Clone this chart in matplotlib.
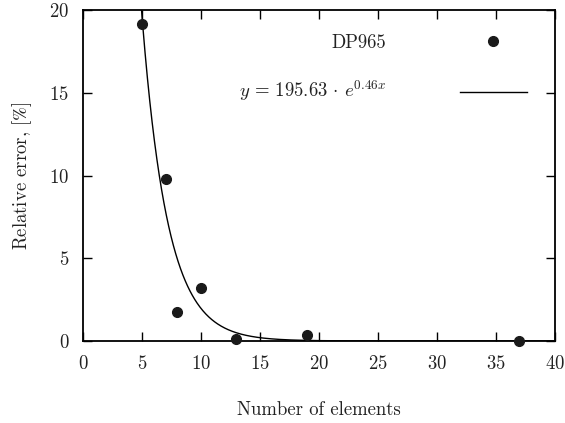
import numpy as np
import matplotlib
matplotlib.use('Agg')
import matplotlib.pyplot as plt
from matplotlib.lines import Line2D

# Estil semblant a gnuplot + LaTeX
matplotlib.rcParams['font.family'] = 'cmr10'
matplotlib.rcParams['mathtext.fontset'] = 'cm'
matplotlib.rcParams['axes.formatter.use_mathtext'] = True
matplotlib.rcParams.update({'font.size': 13.5})

# Dades llegides de la figura
elements = [5, 7, 8, 10, 13, 19, 37]
rel_error = [19.15, 9.8, 1.77, 3.22, 0.1, 0.34, 0.02]
fit_a = 195.63
fit_b = 0.46
xticks = [0, 5, 10, 15, 20, 25, 30, 35, 40]
yticks = [0, 5, 10, 15, 20]

fig = plt.figure(figsize=(5.65, 4.23), dpi=100)
ax = fig.add_axes([0.147, 0.194, 0.835, 0.782])

x_fit = np.linspace(0, 40, 800)
ax.plot(x_fit, fit_a * np.exp(-fit_b * x_fit), color='black', lw=1.0)
ax.plot(elements, rel_error, 'o', color='#1a1a1a', ms=7, clip_on=False, zorder=3)

ax.set_xlim(0, 40)
ax.set_ylim(0, 20)
ax.set_xticks(xticks)
ax.set_yticks(yticks)
ax.tick_params(direction='in', length=6.5, width=1.0, top=True, right=True, pad=10,
               labelcolor='#222222')
for s in ax.spines.values():
    s.set_linewidth(1.3)

ax.set_xlabel('Number of elements', labelpad=20, color='#222222')
ax.set_ylabel(r'Relative error, [$\%$]', labelpad=11, color='#222222',
              math_fontfamily='stix')

# Llegenda a l'estil gnuplot
ax.text(0.642, 0.900, 'DP965', transform=ax.transAxes, ha='right', va='center',
        color='#222222')
ax.plot([0.869], [0.906], 'o', color='#1a1a1a', ms=7, transform=ax.transAxes)
ax.text(0.642, 0.737, r'$y\,=\,195.63\,\cdot\,e^{0.46x}$', transform=ax.transAxes,
        ha='right', va='baseline', color='#222222')
ax.add_line(Line2D([0.799, 0.941], [0.753, 0.753], color='black', lw=1.0,
                   transform=ax.transAxes))

fig.savefig('out.png', dpi=100)
